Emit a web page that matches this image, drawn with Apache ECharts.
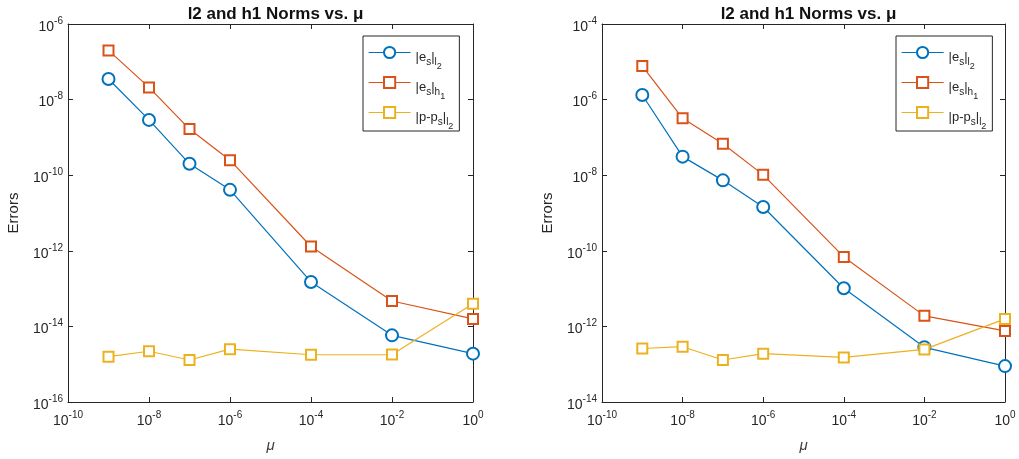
<!DOCTYPE html>
<html><head><meta charset="utf-8">
<script src="https://cdn.jsdelivr.net/npm/echarts@6/dist/echarts.min.js"></script>
<style>html,body{margin:0;padding:0;background:#fff}#c{width:1019px;height:459px}</style>
</head><body><div id="c"></div>
<script>
// ---- data ----
const mu = [1e-9, 1e-8, 1e-7, 1e-6, 1e-4, 1e-2, 1];
const leftEsL2  = [3.5e-8, 2.9e-9, 2.0e-10, 4.1e-11, 1.5e-13, 5.8e-15, 1.9e-15];
const leftEsH1  = [2.0e-7, 2.1e-8, 1.66e-9, 2.5e-10, 1.3e-12, 4.7e-14, 1.58e-14];
const leftPL2   = [1.58e-15, 2.2e-15, 1.29e-15, 2.5e-15, 1.78e-15, 1.8e-15, 4.0e-14];
const rightEsL2 = [1.32e-6, 3.1e-8, 7.3e-9, 1.44e-9, 1.02e-11, 2.8e-13, 8.9e-14];
const rightEsH1 = [7.7e-6, 3.2e-7, 6.8e-8, 1.02e-8, 6.9e-11, 1.9e-12, 7.6e-13];
const rightPL2  = [2.6e-13, 2.9e-13, 1.29e-13, 1.9e-13, 1.51e-13, 2.46e-13, 1.58e-12];
const xRange = [1e-10, 1];
const leftYRange = [1e-16, 1e-6];
const rightYRange = [1e-14, 1e-4];
const titleText = 'l2 and h1 Norms vs. μ';
const seriesNames = ['esl2', 'esh1', 'ppl2'];
const legendLabels = {
  esl2: '{m||e}{s|s}{m||}{s|l}{ss|2}',
  esh1: '{m||e}{s|s}{m||}{s|h}{ss|1}',
  ppl2: '{m||p-p}{s|s}{m||}{s|l}{ss|2}'
};
const colors = ['#0072BD', '#D95319', '#EDB120'];
const symbols = ['emptyCircle', 'emptyRect', 'emptyRect'];
const symbolSizes = [12, 10, 10];

const ink = '#262626';
const FONT = '"Liberation Sans", Arial, Helvetica, sans-serif';
const grids = [
  { left: 68, top: 24, width: 405, height: 378 },
  { left: 602, top: 24, width: 403, height: 378 }
];
function expLabel(v) {
  const e = Math.round(Math.log10(v));
  return '{b|10}{e|' + e + '}';
}
const labelRich = {
  b: { fontSize: 14, fontFamily: FONT, color: ink, verticalAlign: 'top', lineHeight: 16, padding: [4, 0, 0, 0] },
  e: { fontSize: 10, fontFamily: FONT, color: ink, verticalAlign: 'top', lineHeight: 11 }
};
function xAx(gi, pos) {
  const main = pos === 'bottom';
  return {
    type: 'log', logBase: 10, gridIndex: gi, position: pos, min: xRange[0], max: xRange[1],
    splitNumber: 5, interval: 2,
    axisLine: { show: true, lineStyle: { color: ink, width: 1 } },
    axisTick: { show: true, inside: true, length: 5, lineStyle: { color: ink } },
    minorTick: { show: false }, splitLine: { show: false },
    axisLabel: { show: main, margin: 8, formatter: expLabel, rich: labelRich },
    name: main ? 'μ' : '', nameLocation: 'middle', nameGap: 36,
    nameTextStyle: { fontFamily: FONT, fontSize: 15, fontStyle: 'italic', color: '#404040' }
  };
}
function yAx(gi, pos, range) {
  const main = pos === 'left';
  return {
    type: 'log', logBase: 10, gridIndex: gi, position: pos, min: range[0], max: range[1],
    splitNumber: 5, interval: 2,
    axisLine: { show: true, lineStyle: { color: ink, width: 1 } },
    axisTick: { show: true, inside: true, length: 5, lineStyle: { color: ink } },
    minorTick: { show: false }, splitLine: { show: false },
    axisLabel: { show: main, margin: 5, formatter: expLabel, rich: labelRich },
    name: main ? 'Errors' : '', nameLocation: 'middle', nameGap: 47, nameRotate: 90,
    nameTextStyle: { fontFamily: FONT, fontSize: 15, color: ink }
  };
}
function mkSeries(gi, arrs) {
  return arrs.map((arr, i) => ({
    type: 'line', name: seriesNames[i], xAxisIndex: gi, yAxisIndex: gi,
    data: mu.map((x, k) => [x, arr[k]]),
    symbol: symbols[i], symbolSize: symbolSizes[i],
    lineStyle: { color: colors[i], width: 1.2 },
    itemStyle: { color: colors[i], borderColor: colors[i], borderWidth: 1 },
    emphasis: { disabled: true }, z: 2 + i
  }));
}
function mkLegend(left) {
  return {
    left: left, top: 36, orient: 'vertical', data: seriesNames,
    itemWidth: 42, itemHeight: 14, itemGap: 4,
    padding: [9, 6, 0, 5], borderColor: ink, borderWidth: 1, backgroundColor: '#fff',
    selectedMode: false,
    lineStyle: { width: 1.2 },
    itemStyle: { borderWidth: 1 },
    formatter: n => legendLabels[n],
    textStyle: {
      color: ink, fontFamily: FONT, fontSize: 13,
      rich: {
        m: { fontSize: 13, fontFamily: FONT, color: ink, verticalAlign: 'top', lineHeight: 15, padding: [6, 0, 0, 0] },
        s: { fontSize: 10, fontFamily: FONT, color: ink, verticalAlign: 'top', lineHeight: 11, padding: [12, 0, 0, 0] },
        ss: { fontSize: 9, fontFamily: FONT, color: ink, verticalAlign: 'top', lineHeight: 10, padding: [17, 0, 0, 0] }
      }
    }
  };
}
const chart = echarts.init(document.getElementById('c'), null, { renderer: 'canvas' });
chart.setOption({
  animation: false,
  backgroundColor: '#fff',
  title: [
    { text: titleText, left: 270.5, top: 1, textAlign: 'center', textStyle: { fontFamily: FONT, fontSize: 17, fontWeight: 'bold', color: '#111' } },
    { text: titleText, left: 803.5, top: 1, textAlign: 'center', textStyle: { fontFamily: FONT, fontSize: 17, fontWeight: 'bold', color: '#111' } }
  ],
  grid: grids,
  xAxis: [xAx(0, 'bottom'), xAx(1, 'bottom'), xAx(0, 'top'), xAx(1, 'top')],
  yAxis: [yAx(0, 'left', leftYRange), yAx(1, 'left', rightYRange), yAx(0, 'right', leftYRange), yAx(1, 'right', rightYRange)],
  legend: [mkLegend(363), mkLegend(896)],
  series: [].concat(mkSeries(0, [leftEsL2, leftEsH1, leftPL2]), mkSeries(1, [rightEsL2, rightEsH1, rightPL2]))
});
</script>
</body></html>
